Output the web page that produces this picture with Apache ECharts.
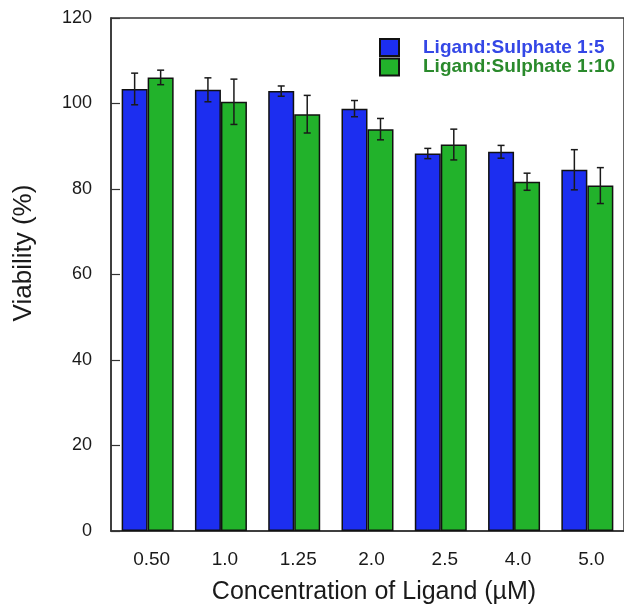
<!DOCTYPE html>
<html>
<head>
<meta charset="utf-8">
<script src="https://cdn.jsdelivr.net/npm/echarts@6/dist/echarts.min.js"></script>
<style>
  html, body { margin: 0; padding: 0; background: #fff; }
  #chart { width: 624px; height: 611px; }
</style>
</head>
<body>
<div id="chart"></div>
<script>
// Cell viability at each ligand concentration, two ligand:sulphate ratios
const categories = ['0.50', '1.0', '1.25', '2.0', '2.5', '4.0', '5.0'];
const seriesNames = ['Ligand:Sulphate 1:5', 'Ligand:Sulphate 1:10'];
const ratio5 = [103.4, 103.2, 102.9, 98.8, 88.3, 88.7, 84.5];
const ratio5Err = [3.7, 2.8, 1.2, 1.9, 1.2, 1.5, 4.7];
const ratio10 = [106.1, 100.4, 97.5, 94.0, 90.4, 81.7, 80.8];
const ratio10Err = [1.7, 5.3, 4.4, 2.5, 3.6, 2.0, 4.2];
const yTicks = { min: 0, max: 120, interval: 20 };

const FONT = '"Liberation Sans", Arial, Helvetica, sans-serif';
const BLUE = '#1c2ef0';
const GREEN = '#22b22b';
const INK = '#1a1a1a';
const BAR_W = 26;

function errorSeries(values, errs, offset) {
  return {
    type: 'custom',
    z: 5,
    silent: true,
    data: values.map((v, i) => [i, v, errs[i]]),
    renderItem: function (params, api) {
      const i = api.value(0), v = api.value(1), e = api.value(2);
      const top = api.coord([i, v + e]);
      const bot = api.coord([i, v - e]);
      const x = top[0] + offset;
      const cap = 3.5;
      const st = { stroke: INK, lineWidth: 1.5 };
      return {
        type: 'group',
        children: [
          { type: 'line', shape: { x1: x, y1: top[1], x2: x, y2: bot[1] }, style: st },
          { type: 'line', shape: { x1: x - cap, y1: top[1], x2: x + cap, y2: top[1] }, style: st },
          { type: 'line', shape: { x1: x - cap, y1: bot[1], x2: x + cap, y2: bot[1] }, style: st }
        ]
      };
    }
  };
}

const chart = echarts.init(document.getElementById('chart'), null, { renderer: 'canvas' });
chart.setOption({
  animation: false,
  backgroundColor: '#fff',
  textStyle: { fontFamily: FONT },
  grid: {
    left: 111, top: 18, width: 515, height: 513,
    show: true, borderColor: '#333', borderWidth: 1.5, backgroundColor: 'transparent'
  },
  legend: {
    orient: 'vertical',
    left: 374, top: 33,
    itemWidth: 19, itemHeight: 17, itemGap: 0.5,
    icon: 'rect',
    selectedMode: false,
    textStyle: { fontFamily: FONT, fontSize: 19, fontWeight: 'bold', lineHeight: 17, padding: [0, 0, 0, 19] },
    data: [
      { name: seriesNames[0], textStyle: { color: '#3447e6' } },
      { name: seriesNames[1], textStyle: { color: '#2a8a2c' } }
    ]
  },
  xAxis: {
    type: 'category',
    data: categories,
    axisLine: { lineStyle: { color: '#333', width: 1.5 } },
    axisTick: { inside: true, length: 8, lineStyle: { color: '#333', width: 1.2 } },
    axisLabel: { color: INK, fontSize: 19, fontFamily: FONT, margin: 19, padding: [0, 0, 0, 8] }
  },
  yAxis: {
    type: 'value',
    min: yTicks.min, max: yTicks.max, interval: yTicks.interval,
    splitLine: { show: false },
    axisLine: { show: true, lineStyle: { color: '#333', width: 1.5 } },
    axisTick: { show: true, inside: true, length: 9, lineStyle: { color: '#333', width: 1.2 } },
    axisLabel: { color: INK, fontSize: 18, fontFamily: FONT, margin: 19 }
  },
  graphic: [
    {
      type: 'text', x: 374, y: 592,
      style: { text: 'Concentration of Ligand (\u00b5M)', font: '25px ' + FONT, fill: INK, align: 'center', verticalAlign: 'middle' }
    },
    {
      type: 'text', x: 24, y: 253, rotation: Math.PI / 2,
      style: { text: 'Viability (%)', font: '26px ' + FONT, fill: INK, align: 'center', verticalAlign: 'middle' }
    }
  ],
  series: [
    {
      name: seriesNames[0], type: 'bar', data: ratio5,
      barWidth: BAR_W, barGap: '0%',
      itemStyle: { color: BLUE, borderColor: '#111', borderWidth: 1.5 }
    },
    {
      name: seriesNames[1], type: 'bar', data: ratio10,
      barWidth: BAR_W, barGap: '0%',
      itemStyle: { color: GREEN, borderColor: '#111', borderWidth: 1.5 }
    },
    errorSeries(ratio5, ratio5Err, -BAR_W / 2),
    errorSeries(ratio10, ratio10Err, BAR_W / 2)
  ]
});
</script>
</body>
</html>
